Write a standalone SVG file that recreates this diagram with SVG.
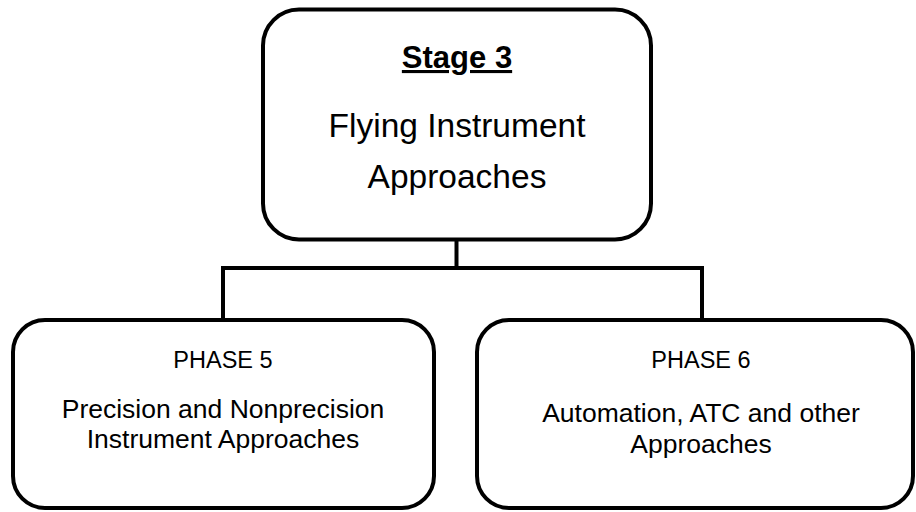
<svg xmlns="http://www.w3.org/2000/svg" width="916" height="512" viewBox="0 0 916 512">
  <style>
    .box { fill: #ffffff; stroke: #000000; stroke-width: 4; }
    .wire { fill: none; stroke: #000000; stroke-width: 4; stroke-linejoin: miter; stroke-linecap: square; }
    text { font-family: "Liberation Sans", Arial, sans-serif; fill: #000000; text-anchor: middle; }
    .title { font-size: 31px; font-weight: bold; text-decoration: underline; }
    .big { font-size: 33.5px; }
    .phase { font-size: 23.5px; }
    .body { font-size: 26.5px; }
  </style>

  <rect width="916" height="512" fill="#ffffff"/>

  <!-- connectors: trunk from the stage box, bus, drops to each phase -->
  <g id="connectors">
    <path class="wire" d="M456.5,241 V268"/>
    <path class="wire" d="M223,320 V268 H702 V320"/>
  </g>

  <g id="stage3">
    <rect class="box" x="263" y="9.5" width="388" height="230" rx="36" ry="36"/>
    <text class="title" x="457" y="68">Stage 3</text>
    <text class="big" x="457" y="137">Flying Instrument</text>
    <text class="big" x="457" y="188">Approaches</text>
  </g>

  <g id="phase5">
    <rect class="box" x="13" y="320" width="421" height="188" rx="32" ry="32"/>
    <text class="phase" x="223" y="368">PHASE 5</text>
    <text class="body" x="223" y="418">Precision and Nonprecision</text>
    <text class="body" x="223" y="448">Instrument Approaches</text>
  </g>

  <g id="phase6">
    <rect class="box" x="477" y="320" width="436" height="188" rx="32" ry="32"/>
    <text class="phase" x="701" y="368">PHASE 6</text>
    <text class="body" x="701" y="422">Automation, ATC and other</text>
    <text class="body" x="701" y="453">Approaches</text>
  </g>
</svg>
